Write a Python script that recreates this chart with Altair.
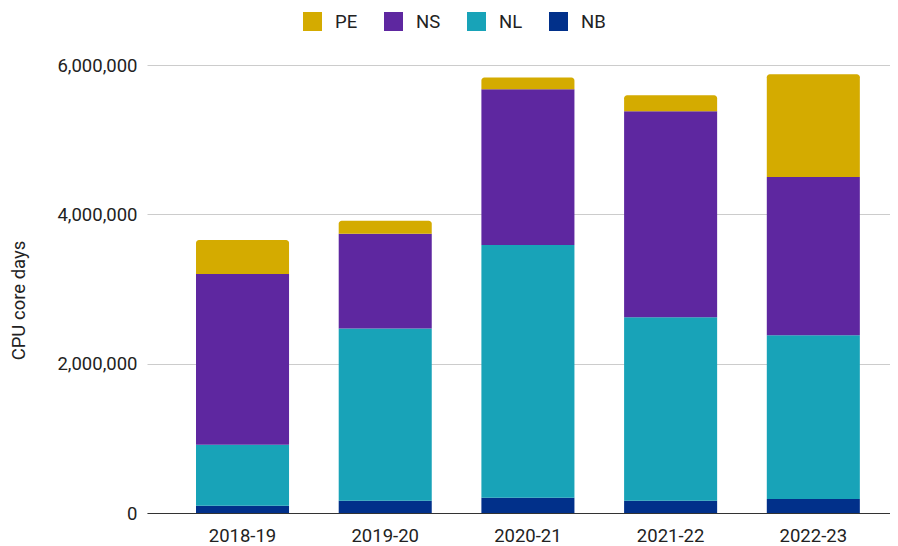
import altair as alt
import pandas as pd

years = ["2018-19", "2019-20", "2020-21", "2021-22", "2022-23"]
series = ["PE", "NS", "NL", "NB"]
colors = ["#D4AB00", "#5E27A0", "#18A3B8", "#01308A"]

nb = [98000, 165000, 205000, 165000, 187000]
nl = [816000, 2305000, 3385000, 2457000, 2194000]
ns = [2286000, 1270000, 2086000, 2760000, 2118000]
pe = [456000, 174000, 157000, 214000, 1378000]

rows = []
for i, y in enumerate(years):
    for name, vals, order in (("NB", nb, 0), ("NL", nl, 1), ("NS", ns, 2), ("PE", pe, 3)):
        rows.append({"year": y, "series": name, "value": vals[i], "ord": order})
df = pd.DataFrame(rows)

FS = 18.5
TXT = "#222222"

base = alt.Chart(df).transform_stack(
    stack="value", groupby=["year"], as_=["y0", "y1"], sort=[alt.SortField("ord", order="ascending")]
).encode(
    x=alt.X("year:N", sort=years, title=None,
            scale=alt.Scale(paddingInner=0.348, paddingOuter=0.2774, align=0.619),
            axis=alt.Axis(labelAngle=0, ticks=False, labelPadding=13, domainColor="#333333",
                          labelFontSize=FS, labelColor=TXT, grid=False)),
    y=alt.Y("y1:Q", title="CPU core days",
            scale=alt.Scale(domain=[0, 6000000], nice=False),
            axis=alt.Axis(values=[0, 2000000, 4000000, 6000000], format=",.0f", domain=False,
                          ticks=False, labelPadding=10, gridColor="#CCCCCC", labelFontSize=FS,
                          labelColor=TXT, titleFontSize=FS, titleFontWeight="normal",
                          titleColor=TXT, titleX=-119, titleY=235, titleBaseline="bottom",
                          titleAngle=270, titleAlign="center")),
    y2="y0:Q",
    color=alt.Color("series:N", scale=alt.Scale(domain=series, range=colors),
                    legend=alt.Legend(title=None, orient="none", legendX=156, legendY=-53,
                                      direction="horizontal", symbolType="square",
                                      symbolSize=361, symbolStrokeWidth=0, labelFontSize=FS,
                                      labelOffset=13, columnPadding=26, labelColor=TXT)),
)

lower = base.transform_filter(alt.datum.series != "PE").mark_bar()
top = base.transform_filter(alt.datum.series == "PE").mark_bar(cornerRadiusTopLeft=3, cornerRadiusTopRight=3)

chart = alt.layer(lower, top).properties(
    width=743, height=448,
    autosize=alt.AutoSizeParams(type="none"),
    padding={"left": 139, "top": 57, "right": 0, "bottom": 33},
).configure(font="Roboto").configure_view(stroke=None)

chart.save("out.html", embed_options={"renderer": "svg", "actions": False})
